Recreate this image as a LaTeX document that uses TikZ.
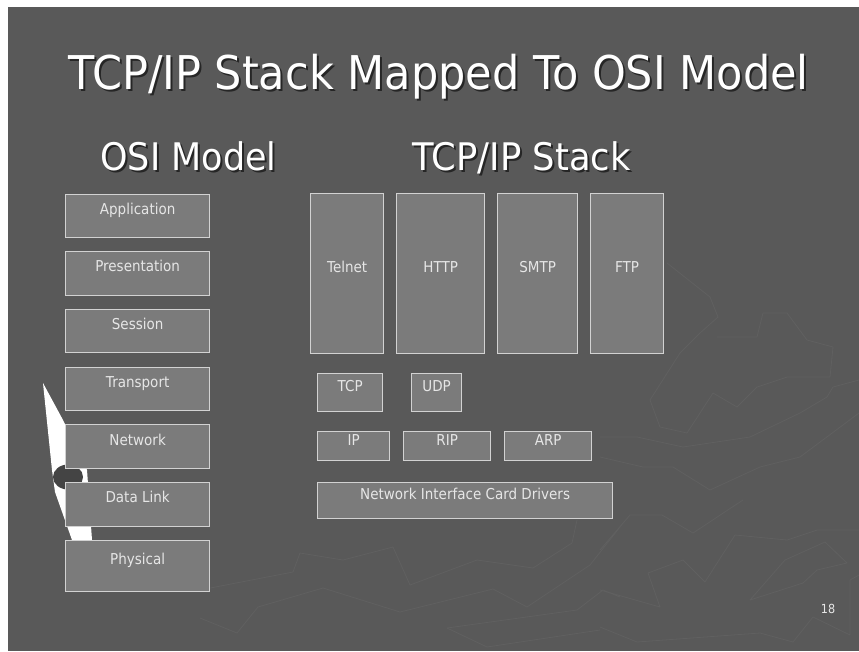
\documentclass[tikz,border=0pt]{standalone}
\usepackage{fontspec}
\setmainfont{DejaVu Sans}
\usetikzlibrary{calc}

\definecolor{slidebg}{HTML}{595959}
\definecolor{mapline}{HTML}{606060}
\definecolor{boxfill}{HTML}{7B7B7B}
\definecolor{boxline}{HTML}{D2D2D2}
\definecolor{labeltext}{HTML}{E6E6E6}
\definecolor{shadowtext}{HTML}{262626}
\definecolor{needledark}{HTML}{444444}

% narrow the sans face a little so it sets like the slide font
\newcommand{\slidefont}[3][0.9]{\fontsize{#2}{#2}\selectfont\scalebox{#1}[1]{#3}}

\tikzset{
  layer/.style={draw=boxline, fill=boxfill, line width=1.3pt, inner sep=0pt,
                anchor=north west},
  lbl/.style={text=labeltext, anchor=base, inner sep=0pt},
  heading/.style={anchor=base, inner sep=0pt},
  map/.style={draw=mapline, line width=0.8pt, line join=round},
}

\begin{document}
\begin{tikzpicture}[x=1pt, y=-1pt]
\useasboundingbox (0,0) rectangle (859,651);
\fill[white] (0,0) rectangle (859,651);
\fill[slidebg] (8,7) rectangle (859,651);

% faint map texture
\draw[map] (200,590) -- (293,572) -- (300,553) -- (343,560) -- (393,547) -- (410,585) -- (477,560) -- (533,568) -- (572,543) -- (577,520);
\draw[map] (200,618) -- (237,633) -- (258,607) -- (323,588) -- (400,612) -- (493,589) -- (527,607) -- (590,565) -- (620,527);
\draw[map] (447,628) -- (577,610) -- (603,590) -- (620,597);
\draw[map] (447,628) -- (487,647) -- (600,630);
\draw[map] (600,550) -- (630,515) -- (662,515) -- (693,533) -- (743,500);
\draw[map] (600,590) -- (660,607) -- (648,573) -- (683,560) -- (705,582) -- (735,535) -- (787,540) -- (817,530) -- (859,530);
\draw[map] (750,600) -- (785,560) -- (825,542) -- (847,563) -- (817,570) -- (803,583) -- cycle;
\draw[map] (600,627) -- (637,642) -- (760,633) -- (793,642) -- (813,617) -- (850,635) -- (850,580) -- (859,575);
\draw[map] (667,263) -- (710,297) -- (718,317) -- (700,333) -- (680,353) -- (650,400) -- (660,427) -- (687,433) -- (713,393) -- (737,407) -- (757,387) -- (787,377) -- (830,377) -- (833,347) -- (807,340) -- (787,313) -- (763,313) -- (757,337) -- (717,337);
\draw[map] (600,437) -- (637,437) -- (683,447) -- (750,437) -- (800,413) -- (827,397) -- (833,387) -- (859,380);
\draw[map] (600,457) -- (643,467) -- (673,467) -- (710,490) -- (760,467) -- (800,457) -- (859,413);

% white needle behind the OSI column
\fill[white] (43,383) -- (63,420) -- (87,470) -- (92,540) -- (72,540) -- (55,492) -- (52,470) -- cycle;
\fill[needledark] (68,477) ellipse [x radius=15, y radius=12.5];

% titles, each with a dark drop shadow
\node[heading, text=shadowtext] (titleS) at (440.5,91) {\slidefont[0.925]{46.5}{TCP/IP Stack Mapped To OSI Model}};
\node[heading, text=white] (title) at (438.5,89) {\slidefont[0.925]{46.5}{TCP/IP Stack Mapped To OSI Model}};
\node[heading, text=shadowtext] (osiS) at (190.5,172) {\slidefont[0.92]{38}{OSI Model}};
\node[heading, text=white] (osi) at (188.5,170) {\slidefont[0.92]{38}{OSI Model}};
\node[heading, text=shadowtext] (stackS) at (523.5,172) {\slidefont[0.93]{38}{TCP/IP Stack}};
\node[heading, text=white] (stack) at (521.5,170) {\slidefont[0.93]{38}{TCP/IP Stack}};

% OSI layers
\node[layer, minimum width=144, minimum height=43] (app)   at (65,194) {};
\node[layer, minimum width=144, minimum height=44] (pres)  at (65,251) {};
\node[layer, minimum width=144, minimum height=43] (sess)  at (65,309) {};
\node[layer, minimum width=144, minimum height=43] (trans) at (65,367) {};
\node[layer, minimum width=144, minimum height=44] (net)   at (65,424) {};
\node[layer, minimum width=144, minimum height=44] (dl)    at (65,482) {};
\node[layer, minimum width=144, minimum height=51] (phys)  at (65,540) {};

\node[lbl] (appL)   at ($(app.north)+(0,20)$)     {\slidefont{15}{Application}};
\node[lbl] (presL)  at ($(pres.north)+(0,20.5)$)  {\slidefont{15}{Presentation}};
\node[lbl] (sessL)  at ($(sess.north)+(0,20)$)    {\slidefont{15}{Session}};
\node[lbl] (transL) at ($(trans.north)+(0,20.5)$) {\slidefont{15}{Transport}};
\node[lbl] (netL)   at ($(net.north)+(0,21)$)     {\slidefont{15}{Network}};
\node[lbl] (dlL)    at ($(dl.north)+(0,20.5)$)    {\slidefont{15}{Data Link}};
\node[lbl] (physL)  at ($(phys.north)+(0,24)$)    {\slidefont{15}{Physical}};

% TCP/IP stack
\node[layer, minimum width=73, minimum height=160] (telnet) at (310,193) {};
\node[layer, minimum width=88, minimum height=160] (http)   at (396,193) {};
\node[layer, minimum width=80, minimum height=160] (smtp)   at (497,193) {};
\node[layer, minimum width=73, minimum height=160] (ftp)    at (590,193) {};
\node[lbl] (telnetL) at ($(telnet.north)+(0,79.5)$) {\slidefont{15}{Telnet}};
\node[lbl] (httpL)   at ($(http.north)+(0,79.5)$)   {\slidefont{15}{HTTP}};
\node[lbl] (smtpL)   at ($(smtp.north)+(0,79.5)$)   {\slidefont{15}{SMTP}};
\node[lbl] (ftpL)    at ($(ftp.north)+(0,79.5)$)    {\slidefont{15}{FTP}};

\node[layer, minimum width=65, minimum height=38] (tcp) at (317,373) {};
\node[layer, minimum width=50, minimum height=38] (udp) at (411,373) {};
\node[lbl] (tcpL) at ($(tcp.north)+(0,18.5)$) {\slidefont{15}{TCP}};
\node[lbl] (udpL) at ($(udp.north)+(0,18.5)$) {\slidefont{15}{UDP}};

\node[layer, minimum width=72, minimum height=29] (ip)  at (317,431) {};
\node[layer, minimum width=87, minimum height=29] (rip) at (403,431) {};
\node[layer, minimum width=87, minimum height=29] (arp) at (504,431) {};
\node[lbl] (ipL)  at ($(ip.north)+(0,14)$)  {\slidefont{15}{IP}};
\node[lbl] (ripL) at ($(rip.north)+(0,14)$) {\slidefont{15}{RIP}};
\node[lbl] (arpL) at ($(arp.north)+(0,14)$) {\slidefont{15}{ARP}};

\node[layer, minimum width=295, minimum height=36] (nic) at (317,482) {};
\node[lbl] (nicL) at ($(nic.north)+(0,17.3)$) {\slidefont{15}{Network Interface Card Drivers}};

% slide number
\node[lbl] (pageno) at (828,613) {\slidefont{12.5}{18}};
\end{tikzpicture}
\end{document}
